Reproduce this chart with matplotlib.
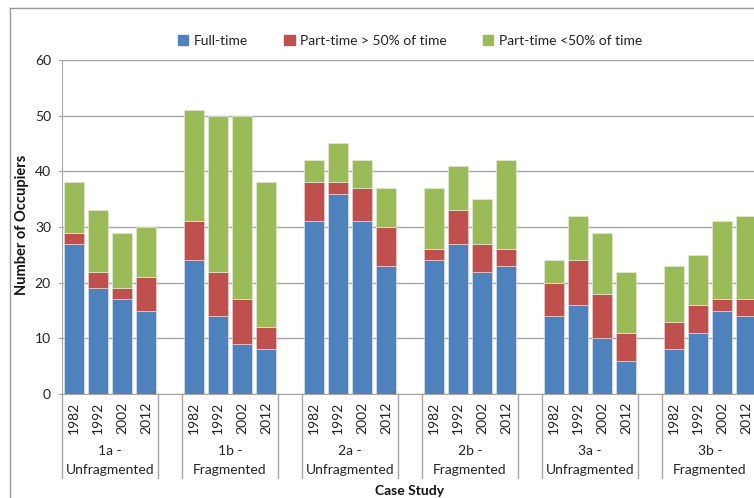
import numpy as np
import matplotlib.pyplot as plt
from matplotlib.lines import Line2D
from matplotlib.patches import Patch

plt.rcParams['font.family'] = ['Lato', 'DejaVu Sans']

years = ['1982', '1992', '2002', '2012']
groups = [('1a -', 'Unfragmented'), ('1b -', 'Fragmented'),
          ('2a -', 'Unfragmented'), ('2b -', 'Fragmented'),
          ('3a -', 'Unfragmented'), ('3b -', 'Fragmented')]

# occupiers per case study, one row per group, columns are the years
full_time = [[27, 19, 17, 15],
             [24, 14, 9, 8],
             [31, 36, 31, 23],
             [24, 27, 22, 23],
             [14, 16, 10, 6],
             [8, 11, 15, 14]]
part_over50 = [[2, 3, 2, 6],
               [7, 8, 8, 4],
               [7, 2, 6, 7],
               [2, 6, 5, 3],
               [6, 8, 8, 5],
               [5, 5, 2, 3]]
part_under50 = [[9, 11, 10, 9],
                [20, 28, 33, 26],
                [4, 7, 5, 7],
                [11, 8, 8, 16],
                [4, 8, 11, 11],
                [10, 9, 14, 15]]

c_full = '#4F81BD'
c_over = '#C0504D'
c_under = '#9BBB59'

W, H = 754, 498
fig = plt.figure(figsize=(W / 100, H / 100), dpi=100)

# chart area border (runs off the right / bottom edges)
fig.add_artist(Line2D([9.5 / W, 9.5 / W], [0, 1 - 8.5 / H], color='#9a9a9a', lw=1))
fig.add_artist(Line2D([9.5 / W, 1], [1 - 8.5 / H, 1 - 8.5 / H], color='#9a9a9a', lw=1))

ax_l, ax_t, ax_b = 62, 60, 394
ax = fig.add_axes([ax_l / W, 1 - ax_b / H, (W - ax_l) / W, (ax_b - ax_t) / H])

slot = 24.0  # px per category slot
xs, fts, ovs, uns, yrs = [], [], [], [], []
for g in range(len(groups)):
    for k in range(4):
        xs.append(g * 5 + k)
        fts.append(full_time[g][k])
        ovs.append(part_over50[g][k])
        uns.append(part_under50[g][k])
        yrs.append(years[k])
xs = np.array(xs)
fts = np.array(fts)
ovs = np.array(ovs)
uns = np.array(uns)

bw = 0.83
ax.bar(xs, fts, bw, color=c_full, edgecolor='#d6e0ee', lw=0.5, zorder=3)
ax.bar(xs, ovs, bw, bottom=fts, color=c_over, edgecolor='#eccfce', lw=0.5, zorder=3)
ax.bar(xs, uns, bw, bottom=fts + ovs, color=c_under, edgecolor='#e3ecd2', lw=0.5, zorder=3)

ax.set_xlim(-0.5, -0.5 + (W - ax_l) / slot)
ax.set_ylim(0, 60)
ax.set_yticks(range(0, 61, 10))
ax.yaxis.grid(True, color='#a6a6a6', lw=1, zorder=0)
ax.set_xticks([])
ax.tick_params(axis='y', length=3, color='#a6a6a6', labelsize=10, labelcolor='#222222', pad=5)
for s in ['top', 'right']:
    ax.spines[s].set_visible(False)
ax.spines['left'].set_color('#a6a6a6')
ax.spines['bottom'].set_color('#a6a6a6')

# multi-level category axis below the plot
tr = ax.get_xaxis_transform()
ph = ax_b - ax_t
for g, (top, bot) in enumerate(groups):
    for edge in (g * 5 - 0.5, g * 5 + 3.5):
        ax.plot([edge, edge], [0, -(478 - ax_b) / ph], transform=tr,
                color='#a6a6a6', lw=1, clip_on=False)
    cx = g * 5 + 1.5
    ax.text(cx, -(451 - ax_b) / ph, top, transform=tr, ha='center', va='center',
            fontsize=10, color='#222222')
    ax.text(cx, -(470 - ax_b) / ph, bot, transform=tr, ha='center', va='center',
            fontsize=10, color='#222222')
for x, yr in zip(xs, yrs):
    ax.text(x, -(418 - ax_b) / ph, yr, transform=tr, rotation=90, ha='center',
            va='center', fontsize=10, color='#222222')

fig.text(410 / W, 1 - 491 / H, 'Case Study', ha='center', va='center',
         fontsize=10, fontweight='bold', color='#111111')
fig.text(22 / W, 1 - 225 / H, 'Number of Occupiers', ha='center', va='center',
         rotation=90, fontsize=10.5, fontweight='bold', color='#111111')

handles = [Patch(color=c_full, label='Full-time'),
           Patch(color=c_over, label='Part-time > 50% of time'),
           Patch(color=c_under, label='Part-time <50% of time')]
fig.legend(handles=handles, loc='center', bbox_to_anchor=(410 / W, 1 - 41 / H),
           ncol=3, frameon=False, fontsize=10, handlelength=0.75, handleheight=0.75,
           handletextpad=0.4, columnspacing=2.6, labelcolor='#222222')

fig.savefig('out.png', dpi=100)
